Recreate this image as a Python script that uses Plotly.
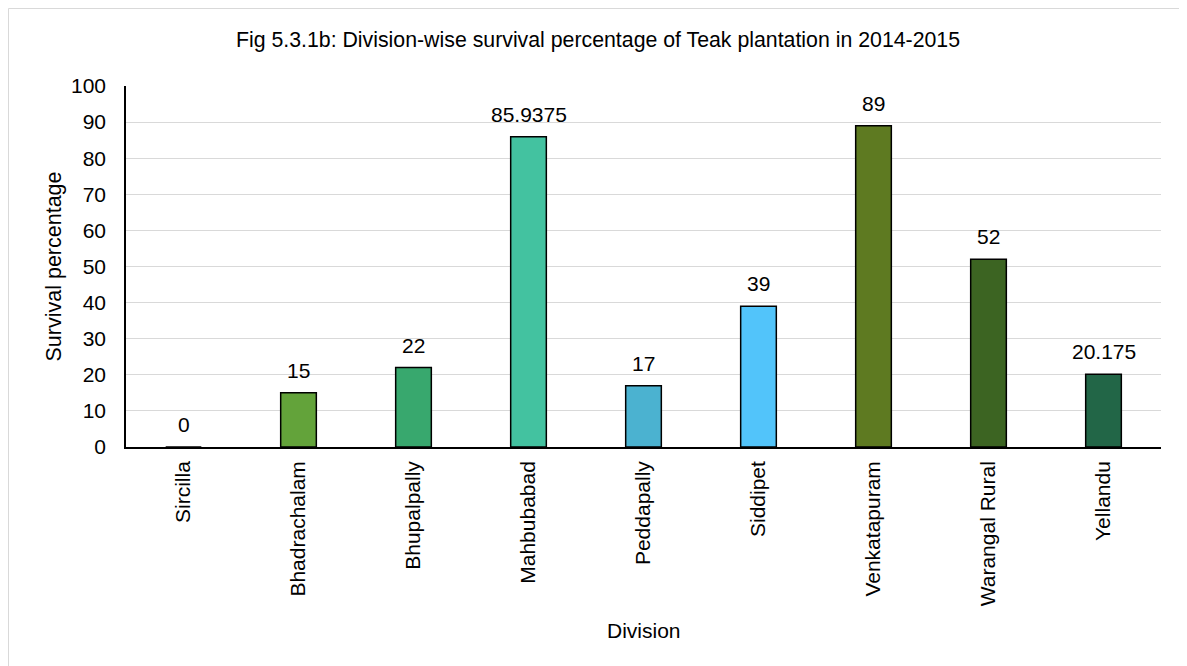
import plotly.graph_objects as go

divisions = ["Sircilla", "Bhadrachalam", "Bhupalpally", "Mahbubabad", "Peddapally",
             "Siddipet", "Venkatapuram", "Warangal Rural", "Yellandu"]
survival = [0, 15, 22, 85.9375, 17, 39, 89, 52, 20.175]
bar_colors = ["#4E8A2E", "#63A33A", "#38A86E", "#43C2A0", "#4BB2D0",
              "#52C4FA", "#5E7A21", "#3C6422", "#226647"]
y_ticks = [0, 10, 20, 30, 40, 50, 60, 70, 80, 90, 100]

FONT = "Liberation Sans, Arial, sans-serif"
OFF = 8  # page body margin
W, H = 1187 - OFF, 666 - OFF
L, R, T, B = 126 - OFF, 1161 - OFF, 86 - OFF, 447 - OFF
FS = 21

fig = go.Figure()
fig.add_trace(go.Bar(
    x=divisions, y=survival, width=0.31,
    marker=dict(color=bar_colors, line=dict(color="#000000", width=1.5)),
    hoverinfo="x+y", showlegend=False,
))

annotations = []
for d, v in zip(divisions, survival):
    annotations.append(dict(x=d, y=v, xref="x", yref="y", text=str(v), showarrow=False,
                            yanchor="bottom", yshift=9,
                            font=dict(family=FONT, size=FS, color="#000000")))

pw, ph = R - L, B - T
annotations.append(dict(text="Survival percentage", xref="paper", yref="paper",
                        x=(53 - OFF - L) / pw, y=0.5, xanchor="center", yanchor="middle",
                        textangle=-90, showarrow=False,
                        font=dict(family=FONT, size=21.5, color="#000000")))
annotations.append(dict(text="Division", xref="paper", yref="paper",
                        x=0.5, y=(B - (630 - OFF)) / ph, xanchor="center", yanchor="middle",
                        showarrow=False, font=dict(family=FONT, size=FS, color="#000000")))

fig.update_layout(
    width=W, height=H,
    margin=dict(l=L, r=W - R, t=T, b=H - B, pad=0),
    paper_bgcolor="#FFFFFF", plot_bgcolor="#FFFFFF",
    font=dict(family=FONT, size=FS, color="#000000"),
    title=dict(text="Fig 5.3.1b: Division-wise survival percentage of Teak plantation in 2014-2015",
               x=(598 - OFF) / W, xanchor="center", xref="container",
               y=1 - (40 - OFF) / H, yanchor="middle", yref="container",
               font=dict(family=FONT, size=21.3, color="#000000")),
    annotations=annotations,
    shapes=[dict(type="rect", xref="paper", yref="paper",
                 x0=(0.5 - L) / pw, x1=(W + 20 - L) / pw,
                 y0=(B - (H + 20)) / ph, y1=1 + (T - 0.5) / ph,
                 line=dict(color="#D9D9D9", width=1), fillcolor="rgba(0,0,0,0)", layer="below")],
    bargap=0.69,
)
fig.update_xaxes(showgrid=False, showline=True, linecolor="#000000", linewidth=1.5,
                 tickangle=-90, ticks="", ticklabelstandoff=4,
                 tickfont=dict(family=FONT, size=FS, color="#000000"), fixedrange=True)
fig.update_yaxes(range=[0, 100], tickvals=y_ticks, showgrid=True, gridcolor="#D9D9D9", gridwidth=1,
                 showline=True, linecolor="#000000", linewidth=1.5, zeroline=False,
                 ticks="", ticklabelstandoff=14,
                 tickfont=dict(family=FONT, size=FS, color="#000000"), fixedrange=True)

fig.write_html("out.html")
